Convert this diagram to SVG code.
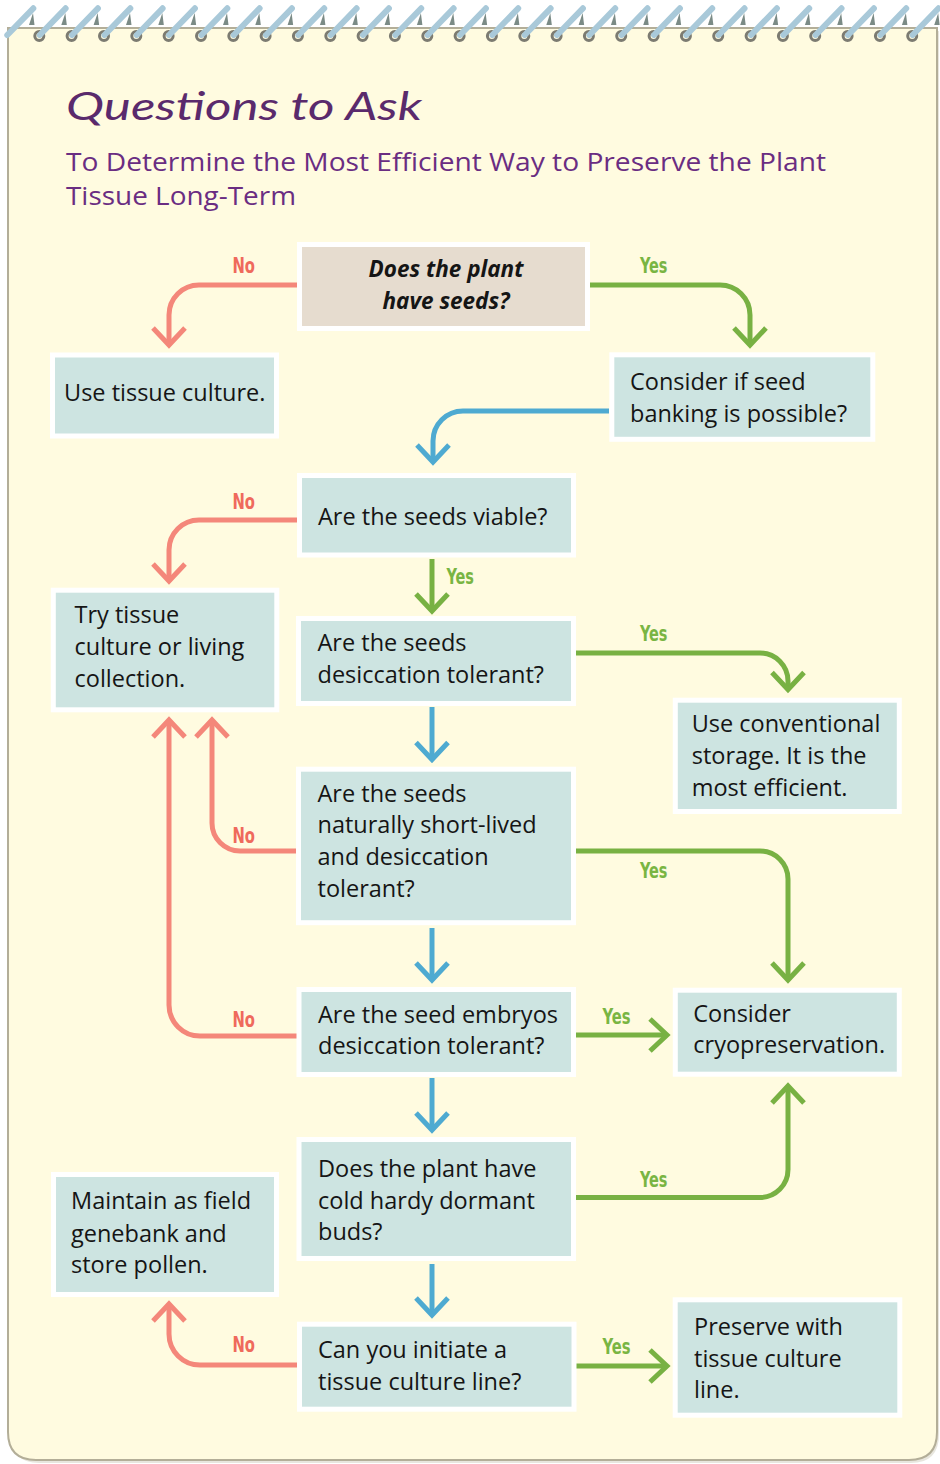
<svg xmlns="http://www.w3.org/2000/svg" xmlns:xlink="http://www.w3.org/1999/xlink" width="940" height="1464" viewBox="0 0 940 1464">
<style>
.paper{fill:#fffbe0;stroke:#b3ae98;stroke-width:2}
.node{fill:#cde4e1;stroke:#ffffff;stroke-width:5}
.start{fill:#e6dccf;stroke:#ffffff;stroke-width:5}
.t{font-family:"Open Sans","Noto Sans",sans-serif;font-size:23.5px;fill:#151515}
.tb{font-family:"Open Sans","Noto Sans",sans-serif;font-size:22.5px;font-weight:bold;font-style:italic;fill:#151515}
.title{font-family:"Lato","Open Sans",sans-serif;font-style:italic;font-size:38px;fill:#5a2a6c}
.sub{font-family:"Open Sans","Noto Sans",sans-serif;font-size:25px;fill:#6a2d82}
.lbl{font-family:"Liberation Sans Narrow","DejaVu Sans Condensed","Liberation Sans",sans-serif;font-size:22px;font-weight:bold}
.no{fill:#ef6a5c}
.yes{fill:#79b543}
.cr{fill:none;stroke:#f4877a;stroke-width:5}
.cg{fill:none;stroke:#78b143;stroke-width:5}
.cb{fill:none;stroke:#4eaad1;stroke-width:5}
.wire{stroke:#a9c9d9;stroke-width:6;stroke-linecap:round}
.ring{fill:none;stroke:#7c7b71;stroke-width:3}
.back{fill:#7b8b86}
</style>
<defs>
<marker id="aR" markerUnits="userSpaceOnUse" orient="auto" overflow="visible" markerWidth="40" markerHeight="40" refX="0" refY="0">
<path d="M-17,-16 L0,0 L-17,16" fill="none" stroke="#f4877a" stroke-width="5" stroke-linejoin="miter"/>
</marker>
<marker id="aG" markerUnits="userSpaceOnUse" orient="auto" overflow="visible" markerWidth="40" markerHeight="40" refX="0" refY="0">
<path d="M-17,-16 L0,0 L-17,16" fill="none" stroke="#78b143" stroke-width="5" stroke-linejoin="miter"/>
</marker>
<marker id="aB" markerUnits="userSpaceOnUse" orient="auto" overflow="visible" markerWidth="40" markerHeight="40" refX="0" refY="0">
<path d="M-17,-16 L0,0 L-17,16" fill="none" stroke="#4eaad1" stroke-width="5" stroke-linejoin="miter"/>
</marker>
<g id="coil">
<circle class="ring" cx="0" cy="36" r="4.5"/>
<polygon class="back" points="22,25 26,13 27.5,25"/>
<line class="wire" x1="0.5" y1="35" x2="26.3" y2="8.3"/>
</g>
</defs>

<!-- paper -->
<path d="M11,31 H939 V1434 Q939,1463 911,1463 H39 Q11,1463 11,1434 Z" fill="#d9d6c8" opacity="0.6"/>
<path class="paper" d="M8,28 H937 V1432 Q937,1460 909,1460 H36 Q8,1460 8,1432 Z"/>

<!-- spiral binding -->
<g id="binding">
<polygon class="back" points="29,25 33,13 34.5,25"/>
<line class="wire" x1="7.3" y1="35" x2="33.3" y2="8.3"/>
<use xlink:href="#coil" x="39.3"/>
<use xlink:href="#coil" x="71.6"/>
<use xlink:href="#coil" x="104"/>
<use xlink:href="#coil" x="136.3"/>
<use xlink:href="#coil" x="168.6"/>
<use xlink:href="#coil" x="201"/>
<use xlink:href="#coil" x="233.3"/>
<use xlink:href="#coil" x="265.6"/>
<use xlink:href="#coil" x="297.9"/>
<use xlink:href="#coil" x="330.3"/>
<use xlink:href="#coil" x="362.6"/>
<use xlink:href="#coil" x="394.9"/>
<use xlink:href="#coil" x="427.3"/>
<use xlink:href="#coil" x="459.6"/>
<use xlink:href="#coil" x="491.9"/>
<use xlink:href="#coil" x="524.3"/>
<use xlink:href="#coil" x="556.6"/>
<use xlink:href="#coil" x="588.9"/>
<use xlink:href="#coil" x="621.2"/>
<use xlink:href="#coil" x="653.6"/>
<use xlink:href="#coil" x="685.9"/>
<use xlink:href="#coil" x="718.2"/>
<use xlink:href="#coil" x="750.6"/>
<use xlink:href="#coil" x="782.9"/>
<use xlink:href="#coil" x="815.2"/>
<use xlink:href="#coil" x="847.6"/>
<use xlink:href="#coil" x="879.9"/>
<use xlink:href="#coil" x="912.2"/>
</g>

<!-- titles -->
<text class="title" x="66" y="120" textLength="356" lengthAdjust="spacingAndGlyphs">Questions to Ask</text>
<text class="sub" x="66" y="171" textLength="760" lengthAdjust="spacingAndGlyphs">To Determine the Most Efficient Way to Preserve the Plant</text>
<text class="sub" x="66" y="205" textLength="230" lengthAdjust="spacingAndGlyphs">Tissue Long-Term</text>

<!-- connectors -->
<g id="connectors">
<path class="cr" d="M297,285 H199 A30,30 0 0 0 169,315 V345" marker-end="url(#aR)"/>
<path class="cg" d="M590,285 H720 A30,30 0 0 1 750,315 V345" marker-end="url(#aG)"/>
<path class="cb" d="M609,411 H463 A30,30 0 0 0 433,441 V462" marker-end="url(#aB)"/>
<path class="cr" d="M297,520 H199 A30,30 0 0 0 169,550 V581" marker-end="url(#aR)"/>
<path class="cg" d="M432,559 V611" marker-end="url(#aG)"/>
<path class="cg" d="M576,653 H760 A28,28 0 0 1 788,681 V689.5" marker-end="url(#aG)"/>
<path class="cb" d="M432,707 V759.5" marker-end="url(#aB)"/>
<path class="cr" d="M297,851 H240 A28,28 0 0 1 212,823 V720" marker-end="url(#aR)"/>
<path class="cg" d="M576,851 H760 A28,28 0 0 1 788,879 V980" marker-end="url(#aG)"/>
<path class="cb" d="M432,928 V980" marker-end="url(#aB)"/>
<path class="cr" d="M297,1036 H200 A31,31 0 0 1 169,1005 V720" marker-end="url(#aR)"/>
<path class="cg" d="M576,1035 H667" marker-end="url(#aG)"/>
<path class="cb" d="M432,1078 V1130" marker-end="url(#aB)"/>
<path class="cg" d="M576,1197.5 H760 A28,28 0 0 0 788,1169.5 V1086" marker-end="url(#aG)"/>
<path class="cb" d="M432,1264 V1315" marker-end="url(#aB)"/>
<path class="cr" d="M297,1365 H200 A31,31 0 0 1 169,1334 V1304" marker-end="url(#aR)"/>
<path class="cg" d="M576,1366 H667" marker-end="url(#aG)"/>

<text class="lbl no" x="232.5" y="273" textLength="22.5" lengthAdjust="spacingAndGlyphs">No</text>
<text class="lbl yes" x="640" y="273" textLength="27.5" lengthAdjust="spacingAndGlyphs">Yes</text>
<text class="lbl no" x="232.5" y="509" textLength="22.5" lengthAdjust="spacingAndGlyphs">No</text>
<text class="lbl yes" x="446.5" y="583.5" textLength="27.5" lengthAdjust="spacingAndGlyphs">Yes</text>
<text class="lbl yes" x="640" y="641" textLength="27.5" lengthAdjust="spacingAndGlyphs">Yes</text>
<text class="lbl no" x="232.5" y="843" textLength="22.5" lengthAdjust="spacingAndGlyphs">No</text>
<text class="lbl yes" x="640" y="878" textLength="27.5" lengthAdjust="spacingAndGlyphs">Yes</text>
<text class="lbl no" x="232.5" y="1027" textLength="22.5" lengthAdjust="spacingAndGlyphs">No</text>
<text class="lbl yes" x="602.5" y="1024" textLength="28" lengthAdjust="spacingAndGlyphs">Yes</text>
<text class="lbl yes" x="640" y="1187" textLength="27.5" lengthAdjust="spacingAndGlyphs">Yes</text>
<text class="lbl no" x="232.5" y="1352" textLength="22.5" lengthAdjust="spacingAndGlyphs">No</text>
<text class="lbl yes" x="602.5" y="1354" textLength="28" lengthAdjust="spacingAndGlyphs">Yes</text>
</g>

<!-- nodes -->
<g id="n-seeds">
<rect class="start" x="299.5" y="244.5" width="288" height="84"/>
<text class="tb" x="446" y="277" text-anchor="middle">Does the plant</text>
<text class="tb" x="446" y="308.5" text-anchor="middle">have seeds?</text>
</g>
<g id="n-use-tc">
<rect class="node" x="52.5" y="355" width="224" height="81"/>
<text class="t" x="64" y="401">Use tissue culture.</text>
</g>
<g id="n-banking">
<rect class="node" x="611.8" y="354.8" width="261" height="84.5"/>
<text class="t" x="630" y="389.5">Consider if seed</text>
<text class="t" x="630" y="421.5">banking is possible?</text>
</g>
<g id="n-viable">
<rect class="node" x="299.5" y="475.5" width="274" height="79.5"/>
<text class="t" x="318" y="524.5">Are the seeds viable?</text>
</g>
<g id="n-try-tc">
<rect class="node" x="53.3" y="590.2" width="223.5" height="119.6"/>
<text class="t" x="74.5" y="623.3">Try tissue</text>
<text class="t" x="74.5" y="655">culture or living</text>
<text class="t" x="74.5" y="686.7">collection.</text>
</g>
<g id="n-desiccation">
<rect class="node" x="298.5" y="618.5" width="275" height="85"/>
<text class="t" x="317.5" y="650.7">Are the seeds</text>
<text class="t" x="317.5" y="682.7">desiccation tolerant?</text>
</g>
<g id="n-conventional">
<rect class="node" x="675.3" y="700.2" width="224" height="111.3"/>
<text class="t" x="691.7" y="731.7">Use conventional</text>
<text class="t" x="691.7" y="764">storage. It is the</text>
<text class="t" x="691.7" y="795.7">most efficient.</text>
</g>
<g id="n-short-lived">
<rect class="node" x="298.5" y="769.2" width="275" height="153.5"/>
<text class="t" x="317.5" y="801.7">Are the seeds</text>
<text class="t" x="317.5" y="833.3">naturally short-lived</text>
<text class="t" x="317.5" y="865">and desiccation</text>
<text class="t" x="317.5" y="896.7">tolerant?</text>
</g>
<g id="n-embryos">
<rect class="node" x="299" y="989.5" width="274.5" height="85"/>
<text class="t" x="318" y="1023">Are the seed embryos</text>
<text class="t" x="318" y="1054">desiccation tolerant?</text>
</g>
<g id="n-cryo">
<rect class="node" x="675.3" y="990.2" width="224" height="84"/>
<text class="t" x="693.3" y="1021.7">Consider</text>
<text class="t" x="693.3" y="1053.3">cryopreservation.</text>
</g>
<g id="n-buds">
<rect class="node" x="299" y="1139.5" width="274.5" height="119"/>
<text class="t" x="318" y="1176.7">Does the plant have</text>
<text class="t" x="318" y="1209.3">cold hardy dormant</text>
<text class="t" x="318" y="1240">buds?</text>
</g>
<g id="n-field">
<rect class="node" x="53.5" y="1174.5" width="223" height="120"/>
<text class="t" x="71" y="1209.3">Maintain as field</text>
<text class="t" x="71" y="1241.7">genebank and</text>
<text class="t" x="71" y="1273.3">store pollen.</text>
</g>
<g id="n-initiate">
<rect class="node" x="299.5" y="1324.2" width="274.5" height="85"/>
<text class="t" x="318" y="1358.3">Can you initiate a</text>
<text class="t" x="318" y="1390">tissue culture line?</text>
</g>
<g id="n-preserve">
<rect class="node" x="675.2" y="1299.8" width="224.6" height="115.4"/>
<text class="t" x="694" y="1335">Preserve with</text>
<text class="t" x="694" y="1366.7">tissue culture</text>
<text class="t" x="694" y="1398">line.</text>
</g>
</svg>
